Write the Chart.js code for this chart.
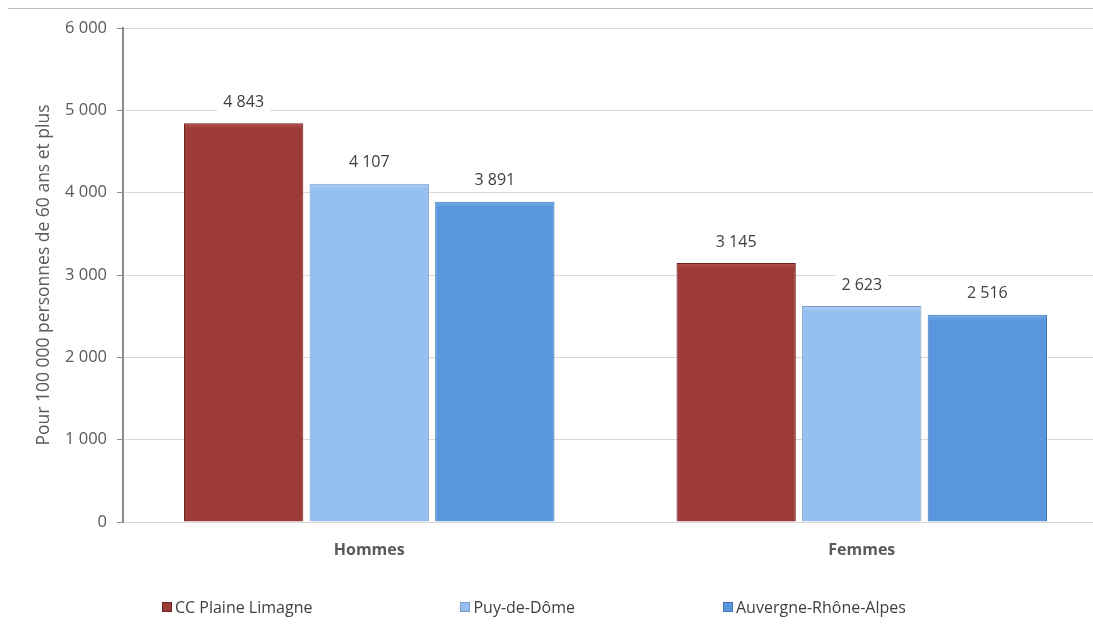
<!DOCTYPE html>
<html>
<head>
<meta charset="utf-8">
<script src="https://cdn.jsdelivr.net/npm/chart.js@4/dist/chart.umd.min.js"></script>
<style>
  html, body { margin: 0; padding: 0; background: #fff; overflow: hidden; }
  #wrap { position: absolute; left: 0; top: 0; width: 1110px; height: 626px; }
  #frame { position: absolute; left: 8px; top: 8px; right: 0; height: 0; border-top: 1px solid #c0c0c0; }
  #legend { position: absolute; left: 162px; top: 596px; display: flex; align-items: center;
            font-family: "Open Sans"; font-size: 16px; color: #404040; }
  #legend .item { display: flex; align-items: center; margin-right: 148px; white-space: nowrap; }
  #legend .box { width: 10px; height: 10px; margin-right: 3px; box-sizing: border-box; border: 1px solid; }
</style>
</head>
<body>
<div id="wrap">
  <canvas id="myChart" width="1110" height="626"></canvas>
</div>
<div id="frame"></div>
<div id="legend"></div>
<script>
var categories = ['Hommes', 'Femmes'];
var seriesNames = ['CC Plaine Limagne', 'Puy-de-Dôme', 'Auvergne-Rhône-Alpes'];
var plaineLimagne = [4843, 3145];
var puyDeDome = [4107, 2623];
var auvergneRhoneAlpes = [3891, 2516];
var colors = ['#9d3b39', '#95bff0', '#5a96dc'];
var edgeColors = ['#6e2422', '#7a9cc6', '#4275b2'];
var topColors = ['#b24e4b', '#acd0f6', '#75aae6'];

function fmt(v) {
  return String(v).replace(/\B(?=(\d{3})+(?!\d))/g, ' ');
}

// étiquettes au-dessus des barres, avec fond blanc
var valueLabels = {
  id: 'valueLabels',
  afterDatasetsDraw: function (chart) {
    var ctx = chart.ctx;
    ctx.save();
    ctx.font = '16px "Open Sans"';
    ctx.textAlign = 'center';
    ctx.textBaseline = 'middle';
    chart.data.datasets.forEach(function (ds, i) {
      var meta = chart.getDatasetMeta(i);
      meta.data.forEach(function (bar, j) {
        var txt = fmt(ds.data[j]);
        var w = ctx.measureText(txt).width + 12;
        var y = bar.y - 21;
        ctx.fillStyle = '#fff';
        ctx.fillRect(bar.x - w / 2, y - 10, w, 20);
        ctx.fillStyle = '#404040';
        ctx.fillText(txt, bar.x, y);
      });
    });
    ctx.restore();
  }
};

// petit relief façon Excel sur le haut des barres
var bevel = {
  id: 'bevel',
  afterDatasetsDraw: function (chart) {
    var ctx = chart.ctx;
    ctx.save();
    chart.data.datasets.forEach(function (ds, i) {
      var meta = chart.getDatasetMeta(i);
      meta.data.forEach(function (bar) {
        var l = bar.x - bar.width / 2;
        var g = ctx.createLinearGradient(0, bar.y, 0, bar.y + 6);
        g.addColorStop(0, topColors[i]);
        g.addColorStop(1, colors[i]);
        ctx.fillStyle = g;
        ctx.fillRect(l + 1, bar.y + 1, bar.width - 2, 6);
      });
    });
    ctx.restore();
  }
};

var ctx = document.getElementById('myChart').getContext('2d');
var myChart = new Chart(ctx, {
  type: 'bar',
  data: {
    labels: categories,
    datasets: [
      { label: seriesNames[0], data: plaineLimagne, backgroundColor: colors[0], borderColor: edgeColors[0], borderWidth: 1 },
      { label: seriesNames[1], data: puyDeDome, backgroundColor: colors[1], borderColor: edgeColors[1], borderWidth: 1 },
      { label: seriesNames[2], data: auvergneRhoneAlpes, backgroundColor: colors[2], borderColor: edgeColors[2], borderWidth: 1 }
    ]
  },
  options: {
    responsive: false,
    animation: false,
    devicePixelRatio: 1,
    datasets: {
      bar: { categoryPercentage: 0.765, barPercentage: 0.95 }
    },
    layout: {
      padding: { left: 30, right: 2, top: 28, bottom: 36 }
    },
    scales: {
      x: {
        grid: { display: false },
        border: { color: '#d9d9d9' },
        ticks: {
          color: '#595959',
          font: { family: 'Open Sans', size: 16, weight: 'bold' },
          padding: 11
        },
        afterFit: function (scale) { scale.height = 68; }
      },
      y: {
        min: 0,
        max: 6000,
        ticks: {
          stepSize: 1000,
          color: '#595959',
          font: { family: 'Open Sans', size: 16.5 },
          padding: 10,
          callback: function (v) { return fmt(v); }
        },
        grid: { color: '#d9d9d9', tickColor: '#8c8c8c', tickLength: 6 },
        border: { color: '#8c8c8c', width: 2 },
        title: {
          display: true,
          text: 'Pour 100 000 personnes de 60 ans et plus',
          color: '#595959',
          font: { family: 'Open Sans', size: 17.5 }
        },
        afterFit: function (scale) { scale.width = 93; }
      }
    },
    plugins: {
      legend: { display: false },
      tooltip: { enabled: false }
    }
  },
  plugins: [bevel, valueLabels]
});

// légende HTML construite à partir des séries du graphique
var legendEl = document.getElementById('legend');
myChart.data.datasets.forEach(function (ds) {
  var item = document.createElement('div');
  item.className = 'item';
  var box = document.createElement('span');
  box.className = 'box';
  box.style.background = ds.backgroundColor;
  box.style.borderColor = ds.borderColor;
  item.appendChild(box);
  item.appendChild(document.createTextNode(ds.label));
  legendEl.appendChild(item);
});
</script>
</body>
</html>
